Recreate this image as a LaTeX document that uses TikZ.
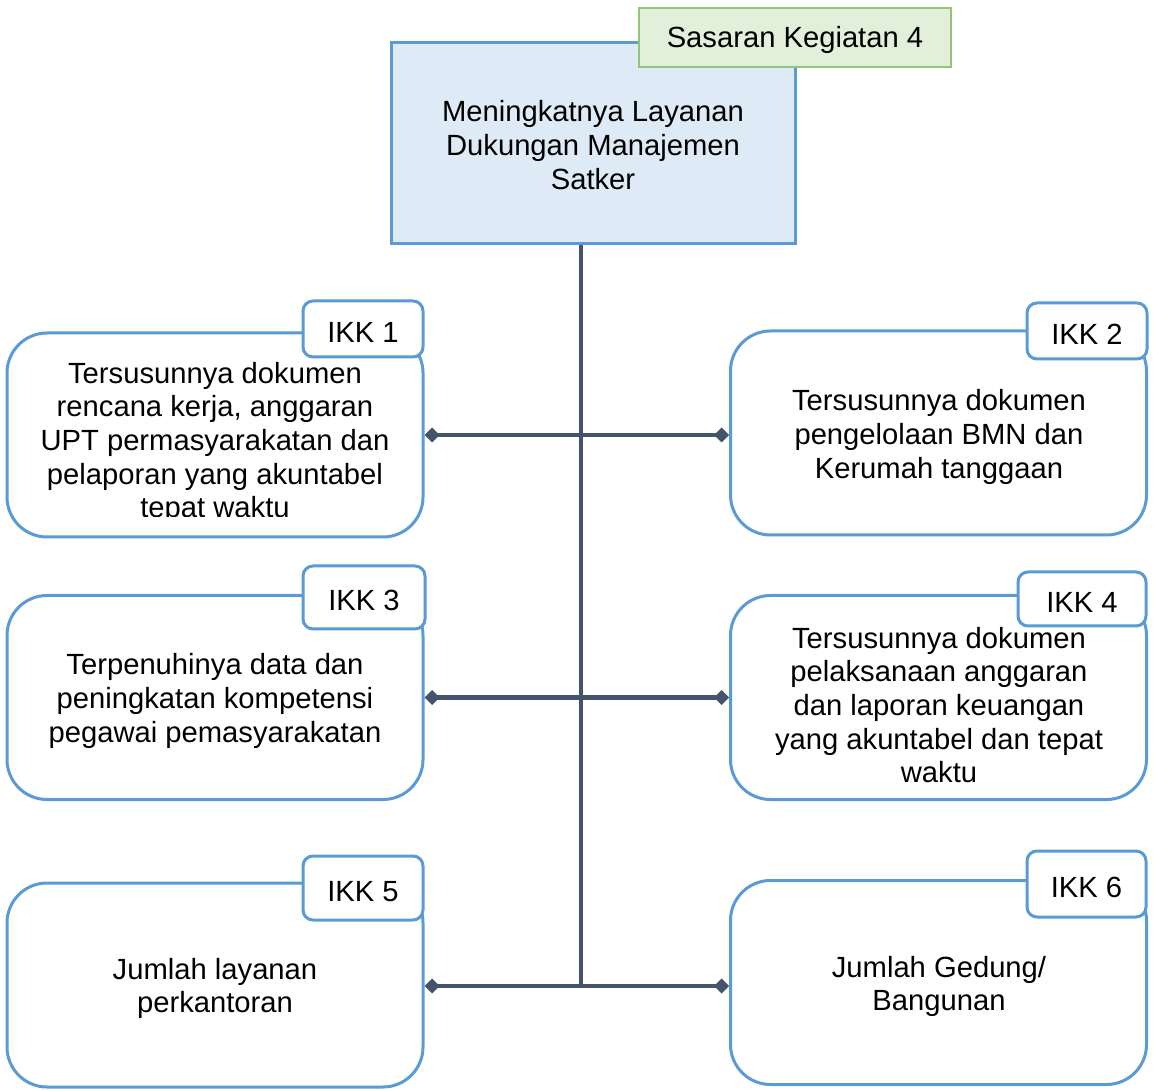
\documentclass[tikz,border=0pt]{standalone}
\usepackage{fontspec}
\setmainfont{Liberation Sans}
\usetikzlibrary{arrows.meta}
\definecolor{blueedge}{HTML}{5B9BD5}
\definecolor{bluefill}{HTML}{DEEBF7}
\definecolor{greenedge}{HTML}{92C47A}
\definecolor{greenfill}{HTML}{E2EFDA}
\definecolor{slate}{HTML}{44546A}
\tikzset{
  txt/.style={font=\fontsize{14.6}{16.85}\selectfont, align=center, inner sep=0pt},
  bodytext/.style={txt, yshift=-1.5pt},
  mainbox/.style={draw=blueedge, fill=bluefill, line width=1.5pt, minimum width=202pt, minimum height=100.5pt, inner sep=0pt},
  goalbox/.style={draw=greenedge, fill=greenfill, line width=0.8pt, minimum width=156pt, minimum height=29.5pt, inner sep=0pt, txt, text height=12.6pt},
  ikkbox/.style={draw=blueedge, fill=white, line width=1.5pt, rounded corners=20pt, minimum width=208pt, minimum height=102pt, inner sep=0pt},
  tabbox/.style={draw=blueedge, fill=white, line width=1.5pt, rounded corners=5pt, inner sep=0pt, txt, text height=13.4pt, text depth=0pt},
  link/.style={draw=slate, line width=2.3pt, {Diamond[length=7.5pt,width=7.5pt]}-{Diamond[length=7.5pt,width=7.5pt]}},
  stem/.style={draw=slate, line width=2.3pt}
}
\begin{document}
\begin{tikzpicture}[x=0.5pt, y=-0.5pt]
\useasboundingbox (0,0) rectangle (1153,1091);

% top goal box and its label
\node[mainbox] (main) at (593,143.5) {};
\node[bodytext] (maintext) at (593,142) {Meningkatnya Layanan\\Dukungan Manajemen\\Satker};
\node[goalbox] (goal) at (795,37.5) {Sasaran Kegiatan 4};

% indicator boxes
\node[ikkbox] (b1) at (215,435) {};
\node[ikkbox] (b2) at (938.5,433) {};
\node[ikkbox] (b3) at (215,697.5) {};
\node[ikkbox] (b4) at (938.5,697.5) {};
\node[ikkbox] (b5) at (215,985) {};
\node[ikkbox] (b6) at (938.5,982.5) {};

% box texts (the first one is cut off at the bottom)
\begin{scope}
  \clip (10,340) rectangle (420,517);
  \node[bodytext] (t1) at (215,440) {Tersusunnya dokumen\\rencana kerja, anggaran\\UPT permasyarakatan dan\\pelaporan yang akuntabel\\tepat waktu};
\end{scope}
\node[bodytext] (t2) at (939,434) {Tersusunnya dokumen\\pengelolaan BMN dan\\Kerumah tanggaan};
\node[bodytext] (t3) at (215,698) {Terpenuhinya data dan\\peningkatan kompetensi\\pegawai pemasyarakatan};
\node[bodytext] (t4) at (939,702) {Tersusunnya dokumen\\pelaksanaan anggaran\\dan laporan keuangan\\yang akuntabel dan tepat\\waktu};
\node[bodytext] (t5) at (215,985.5) {Jumlah layanan\\perkantoran};
\node[bodytext] (t6) at (939,983.5) {Jumlah Gedung/\\Bangunan};

% label tabs
\node[tabbox, minimum width=60pt, minimum height=28pt] (k1) at (363,329) {IKK 1};
\node[tabbox, minimum width=60pt, minimum height=28pt] (k2) at (1087,331) {IKK 2};
\node[tabbox, minimum width=61pt, minimum height=31.5pt] (k3) at (364,597.5) {IKK 3};
\node[tabbox, minimum width=64pt, minimum height=27pt] (k4) at (1082,599) {IKK 4};
\node[tabbox, minimum width=60pt, minimum height=32pt] (k5) at (363,888) {IKK 5};
\node[tabbox, minimum width=59.5pt, minimum height=33pt] (k6) at (1086.5,884) {IKK 6};

% connectors
\coordinate (hub) at (581,986);
\draw[stem] (main.south -| hub) -- (hub);
\draw[link] (b1.east) -- (b2.west |- b1.east);
\draw[link] (b3.east) -- (b4.west |- b3.east);
\draw[link] (b5.east |- hub) -- (b6.west |- hub);
\end{tikzpicture}
\end{document}
